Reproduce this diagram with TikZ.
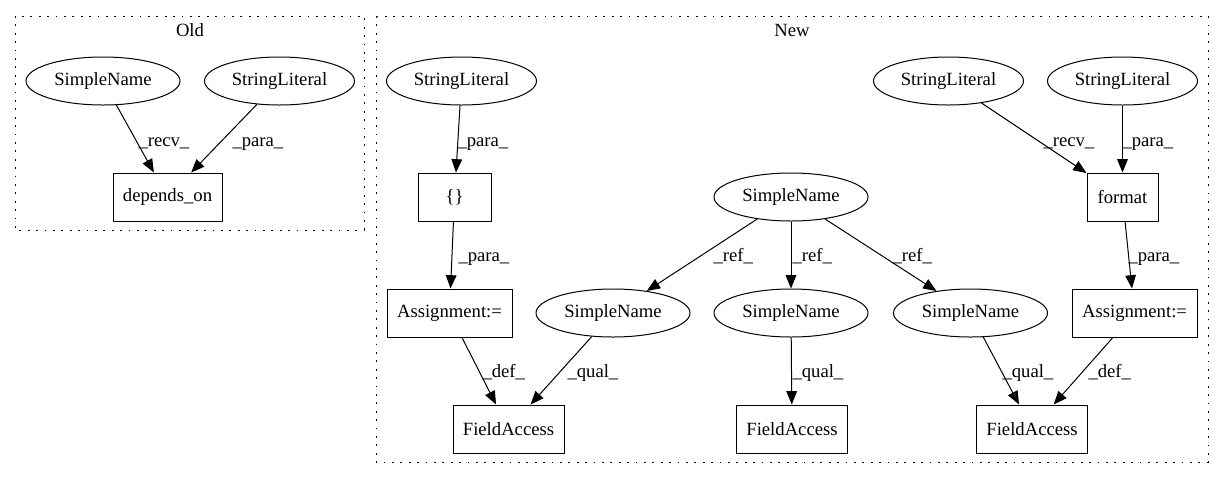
\documentclass[tikz,border=0pt]{standalone}
\usepackage{fontspec}
\setmainfont{Liberation Serif}
\usetikzlibrary{shapes.geometric,arrows.meta}
\begin{document}
\begin{tikzpicture}[x=0.75pt,y=-0.75pt,
  every node/.style={font=\fontsize{14}{16}\selectfont},
  ell/.style={draw,line width=0.75pt,ellipse,inner sep=0pt,minimum height=36pt},
  sn/.style={ell,minimum width=115.5pt},
  sl/.style={ell,minimum width=112.5pt},
  box/.style={draw,line width=0.75pt,rectangle,inner sep=0pt,minimum height=36pt},
  edge/.style={draw,line width=0.75pt,-{Triangle[length=10pt,width=8pt]}},
  lbl/.style={anchor=base west,inner sep=0pt},
  cluster/.style={draw,line width=0.75pt,dash pattern=on 1.3pt off 5pt},
  ctitle/.style={anchor=base,inner sep=0pt}]
\fill[white] (0,0) rectangle (1224,480);
\useasboundingbox (0,0) rectangle (1224,480);
% clusters
\draw[cluster] (15,16) rectangle (364,230);
\draw[cluster] (376,16) rectangle (1208,462);
\node[ctitle] (told) at (190,36) {Old};
\node[ctitle] (tnew) at (792,36) {New};
% Old
\node[sn] (osn) at (103,81) {SimpleName};
\node[sl] (osl) at (279.5,81) {StringLiteral};
\node[box,minimum width=81.75pt] (odep) at (167.5,197) {depends\_on};
% New
\node[sl] (nsla) at (461.5,81) {StringLiteral};
\node[box,minimum width=54.75pt] (nbr) at (454.5,197) {\{\}};
\node[box,minimum width=93.75pt] (nasl) at (449.5,313) {Assignment:=};
\node[sn] (nsnt) at (791,197) {SimpleName};
\node[sn] (nsnl) at (613,313) {SimpleName};
\node[sn] (nsnm) at (791,313) {SimpleName};
\node[sn] (nsnr) at (970.5,313) {SimpleName};
\node[box,minimum width=93.75pt] (nasr) at (1134.5,313) {Assignment:=};
\node[box,minimum width=83.25pt] (nfal) at (508.5,429) {FieldAccess};
\node[box,minimum width=83.25pt] (nfam) at (792,429) {FieldAccess};
\node[box,minimum width=83.25pt] (nfar) at (1032,429) {FieldAccess};
\node[sl] (nslb) at (948.5,81) {StringLiteral};
\node[sl] (nslc) at (1122.5,81) {StringLiteral};
\node[box,minimum width=53.25pt] (nfmt) at (1122.5,197) {format};
% edges Old
\draw[edge] (osn) -- (odep) node[lbl] at (138,146) {\_recv\_};
\draw[edge] (osl) -- (odep) node[lbl] at (232,146) {\_para\_};
% edges New
\draw[edge] (nsla) -- (nbr) node[lbl] at (457,146) {\_para\_};
\draw[edge] (nbr) -- (nasl) node[lbl] at (458,261) {\_para\_};
\draw[edge] (nsnt) -- (nsnl) node[lbl] at (713,261) {\_ref\_};
\draw[edge] (nsnt) -- (nsnm) node[lbl] at (792,261) {\_ref\_};
\draw[edge] (nsnt) -- (nsnr) node[lbl] at (892,261) {\_ref\_};
\draw[edge] (nasl) -- (nfal) node[lbl] at (482,377) {\_def\_};
\draw[edge] (nsnl) -- (nfal) node[lbl] at (567,377) {\_qual\_};
\draw[edge] (nsnm) -- (nfam) node[lbl] at (792,377) {\_qual\_};
\draw[edge] (nsnr) -- (nfar) node[lbl] at (1002,377) {\_qual\_};
\draw[edge] (nasr) -- (nfar) node[lbl] at (1088,377) {\_def\_};
\draw[edge] (nslb) -- (nfmt) node[lbl] at (1043,146) {\_recv\_};
\draw[edge] (nslc) -- (nfmt) node[lbl] at (1122,146) {\_para\_};
\draw[edge] (nfmt) -- (nasr) node[lbl] at (1128,261) {\_para\_};
\end{tikzpicture}
\end{document}
